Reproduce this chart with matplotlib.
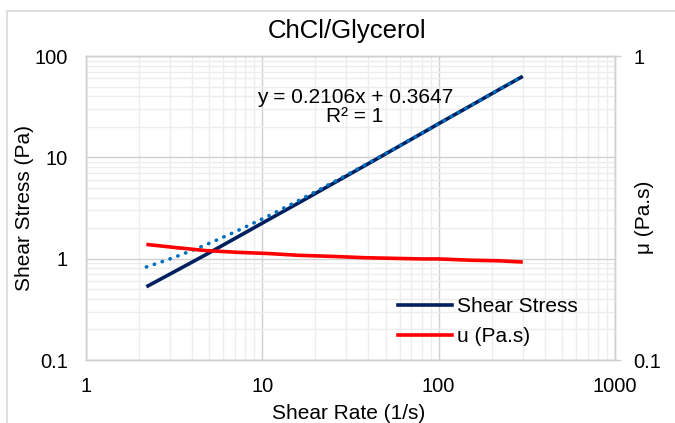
import numpy as np
import matplotlib
matplotlib.use("Agg")
import matplotlib.pyplot as plt
from matplotlib.lines import Line2D
from matplotlib.patches import Rectangle
from matplotlib.ticker import FuncFormatter, LogLocator, NullLocator

plt.rcParams['font.family'] = ['Liberation Sans', 'DejaVu Sans']

# Shear rate (1/s), shear stress (Pa) and viscosity (Pa.s)
shear_rate = [2.2, 3.3, 4.8, 7.3, 10.8, 16, 26, 38, 55, 80, 100, 150, 220, 300]
shear_stress = [0.528, 0.772, 1.099, 1.650, 2.419, 3.536, 5.694, 8.246,
                11.88, 17.2, 21.5, 31.95, 46.64, 63.0]
viscosity = [0.240, 0.234, 0.229, 0.226, 0.224, 0.221, 0.219, 0.217,
             0.216, 0.215, 0.215, 0.213, 0.212, 0.210]

# linear trendline shown in the chart
fit_slope = 0.2106
fit_intercept = 0.3647

navy = "#002060"
dots = "#0070C0"
red = "#FF0000"
major_grid = "#D0D0D0"
minor_grid = "#EDEDED"
W, H = 675, 423

fig = plt.figure(figsize=(6.75, 4.23), dpi=100)
ax = fig.add_axes([86 / W, 1 - 360 / H, 529 / W, 304 / H])

# outer chart border
fig.patches.append(Rectangle((7 / W, -0.1), 1.1, 1 - 11 / H + 0.1,
                             transform=fig.transFigure, fill=False,
                             edgecolor="#D9D9D9", linewidth=1.2, zorder=0))

ax.set_xscale('log')
ax.set_yscale('log')
ax.set_xlim(1, 1000)
ax.set_ylim(0.1, 100)
ax.xaxis.set_major_locator(LogLocator(base=10, numticks=10))
ax.yaxis.set_major_locator(LogLocator(base=10, numticks=10))
ax.xaxis.set_minor_locator(LogLocator(base=10, subs=np.arange(2, 10), numticks=20))
ax.yaxis.set_minor_locator(LogLocator(base=10, subs=np.arange(2, 10), numticks=20))
fmt = FuncFormatter(lambda v, p: f"{v:g}")
ax.xaxis.set_major_formatter(fmt)
ax.yaxis.set_major_formatter(fmt)
ax.xaxis.set_minor_formatter(FuncFormatter(lambda v, p: ""))
ax.yaxis.set_minor_formatter(FuncFormatter(lambda v, p: ""))
ax.grid(True, which='minor', color=minor_grid, linewidth=1.0)
ax.grid(True, which='major', color=major_grid, linewidth=1.0)
ax.set_axisbelow(True)
ax.tick_params(which='both', length=0, labelsize=14.5, colors='#000000')
ax.tick_params(axis='x', pad=12)
ax.tick_params(axis='y', pad=13)
for s in ax.spines.values():
    s.set_color(major_grid)
    s.set_linewidth(1.0)

ax.plot(shear_rate, shear_stress, color=navy, linewidth=2.6,
        solid_capstyle='butt', zorder=3)
trend_x = np.geomspace(shear_rate[0], shear_rate[-1], 200)
ax.plot(trend_x, fit_slope * trend_x + fit_intercept, color=dots,
        linewidth=2.6, linestyle=(0, (0.1, 2.2)), dash_capstyle='round',
        zorder=4)

ax2 = ax.twinx()
ax2.set_yscale('log')
ax2.set_ylim(0.1, 1)
ax2.yaxis.set_major_locator(LogLocator(base=10, numticks=10))
ax2.yaxis.set_minor_locator(NullLocator())
ax2.yaxis.set_major_formatter(fmt)
ax2.tick_params(axis='y', length=4, width=1, color=major_grid,
                labelsize=14.5, pad=9)
for s in ax2.spines.values():
    s.set_color(major_grid)
    s.set_linewidth(1.0)
ax2.plot(shear_rate, viscosity, color=red, linewidth=2.6,
         solid_capstyle='butt', zorder=3)

# titles and axis labels placed in figure pixels
fig.text(347 / W, 1 - 31 / H, "ChCl/Glycerol", fontsize=18.5,
         ha='center', va='center')
fig.text(349 / W, 1 - 419 / H, "Shear Rate (1/s)", fontsize=15,
         ha='center', va='baseline')
fig.text(25 / W, 1 - 208 / H, "Shear Stress (Pa)", fontsize=15,
         ha='center', va='center', rotation=90)
fig.text(645 / W, 1 - 217 / H, "μ (Pa.s)", fontsize=15,
         ha='center', va='center', rotation=90)
fig.text(355 / W, 1 - 107 / H, f"y = {fit_slope}x + {fit_intercept}\nR² = 1",
         fontsize=15, ha='center', va='center', linespacing=0.95)

handles = [Line2D([], [], color=navy, linewidth=2.6),
           Line2D([], [], color=red, linewidth=2.6)]
ax2.legend(handles, ["Shear Stress", "u (Pa.s)"], frameon=False, fontsize=15,
           handlelength=2.6, handletextpad=0.25, labelspacing=0.55,
           loc='upper left', bbox_to_anchor=(398 / W, 1 - 297 / H),
           bbox_transform=fig.transFigure, borderaxespad=0, borderpad=0)

fig.savefig("out.png", dpi=100)
